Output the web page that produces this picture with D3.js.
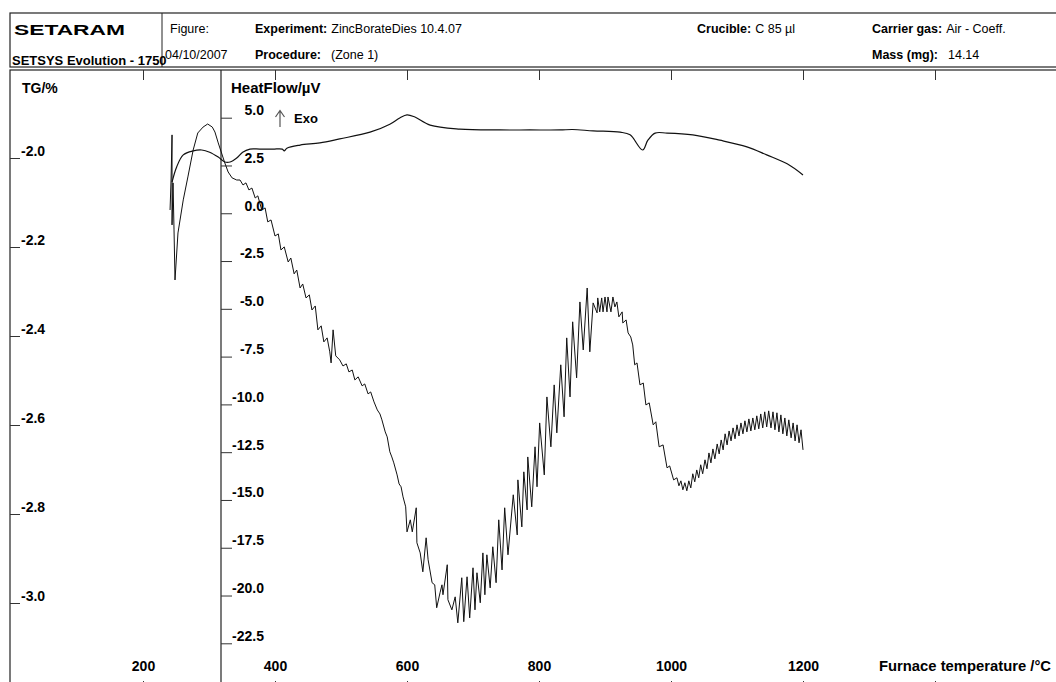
<!DOCTYPE html>
<html>
<head>
<meta charset="utf-8">
<script src="https://cdnjs.cloudflare.com/ajax/libs/d3/7.8.5/d3.min.js"></script>
<style>
body { margin: 0; background: #fff; }
text { font-family: "Liberation Sans", Arial, sans-serif; fill: #000; }
.tick line { stroke: #333; }
</style>
</head>
<body>
<div id="chart"></div>
<script>
// Tick values
var tempTicks = [200, 400, 600, 800, 1000, 1200];
var topTicks = [200, 400, 600, 800, 1000, 1200, 1400];
var tgTicks = [-2.0, -2.2, -2.4, -2.6, -2.8, -3.0];
var hfTicks = [5.0, 2.5, 0.0, -2.5, -5.0, -7.5, -10.0, -12.5, -15.0, -17.5, -20.0, -22.5];

// TG curve : [furnace temperature °C, TG %]
var tgCurve = [
  [244,-2.054],[251,-2.020],[261,-1.993],[276,-1.984],[289,-1.982],[301,-1.987],[314,-1.998],
  [324,-2.009],[332,-2.009],[342,-2.000],[351,-1.987],[362,-1.980],[377,-1.980],[397,-1.980],
  [411,-1.980],[414,-1.984],[418,-1.978],[438,-1.971],[468,-1.966],[498,-1.957],[544,-1.942],
  [574,-1.924],[589,-1.910],[600,-1.903],[612,-1.908],[635,-1.926],[680,-1.935],[741,-1.937],
  [786,-1.937],[832,-1.937],[851,-1.936],[882,-1.939],[923,-1.942],[938,-1.948],[957,-1.982],
  [965,-1.960],[976,-1.944],[994,-1.944],[1033,-1.948],[1074,-1.960],[1115,-1.975],[1145,-1.993],
  [1176,-2.013],[1200,-2.038]
];

// Heat flow curve : [furnace temperature °C, heat flow µV]
var hfCurve = [
  [241,0.17],[242.5,1.74],[244,4.10],[244,-0.61],[245.5,1.59],[247,-0.87],[248.5,-3.49],[253,-1.03],
  [261,0.70],[268,1.90],[276,3.31],[283,4.20],[291,4.51],[298,4.67],[305,4.51],[309,4.25],[314,3.68],
  [320,3.05],[324,2.63],[329,2.16],[335,1.85],[342,1.74],
  [347,1.74],[351.5,1.48],[356,1.59],[360.5,1.22],[365,1.32],[370,0.80],[374,0.91],[380,0.17],[385,0.28],
  [389,-0.45],[394,-0.35],[400,-1.19],[405,-1.08],[409,-1.92],[414,-1.76],[420,-2.55],[424,-2.34],
  [429,-3.17],[433,-2.97],[438,-3.91],[442,-3.70],[447,-4.43],[452,-4.27],[456,-5.06],[461,-4.85],
  [465,-6.10],[470,-5.89],[474,-6.73],[479,-6.52],[483,-7.25],[485,-7.83],[488,-6.10],[492,-7.46],
  [498,-7.67],[503,-7.99],[508,-7.88],[512,-8.30],[517,-8.20],[521,-8.72],[526,-8.56],[532,-9.03],
  [536,-8.93],[541,-9.45],[545,-9.35],[550,-9.87],[555,-10.29],[559,-10.50],[562,-10.81],[567,-11.44],
  [570,-11.70],[574,-12.48],[577,-12.75],[580,-13.06],[585,-13.69],[588,-14.16],[591,-14.31],
  [594,-14.84],[598,-15.36],
  [600,-16.67],[605,-16.04],[608,-16.67],[614,-15.41],[615,-17.24],[620,-17.77],[624,-18.76],
  [629,-16.98],[632,-18.13],[638,-19.33],[642,-19.44],[645,-20.64],[650,-19.86],[653,-19.44],
  [654.5,-19.96],[661,-18.39],[662,-20.22],[668,-20.75],[673,-20.07],[677,-21.43],[683,-19.07],
  [686,-21.37],[691,-19.02],[695,-21.17],[700,-18.55],[703,-20.75],[706,-18.81],[711,-20.38],
  [715,-17.77],[718,-19.96],[721,-17.87],[726,-19.60],[730,-17.45],[735,-19.33],[739,-16.04],
  [744,-18.66],[748,-15.41],[753,-17.87],[761,-14.73],[767,-16.83],[768,-13.95],[774,-16.41],
  [777,-13.53],[782,-15.52],[783,-12.75],[789,-15.36],[794,-12.22],[797,-14.31],[801,-10.97],
  [808,-13.69],[812,-9.61],[818,-12.22],[823,-8.98],[827,-11.49],[833,-7.93],[838,-10.65],
  [842,-6.52],[847,-9.61],[851,-5.68],[857,-8.61],[862,-4.64],[867,-7.15],[873,-3.91],[877,-7.25],
  [882,-4.69],[888,-5.21],[889,-4.43],[892,-5.16],[895,-4.43],[897,-5.16],[900,-4.38],[903,-5.16],
  [904.5,-4.38],[909,-5.16],[912,-4.38],[915,-4.90],[918,-4.64],[921,-5.42],[926,-5.16],[927,-5.74],
  [932,-5.58],[935,-6.26],[939,-6.47],
  [942,-6.89],[945,-7.93],[948.5,-7.83],[953,-8.98],[958,-8.88],[962,-10.03],[967,-9.92],[973,-11.07],
  [977,-10.91],[982,-12.22],[988,-12.12],[994,-13.32],[998,-13.22],[1004,-13.95],[1009,-13.84],
  [1012,-14.26],[1015,-14.00],[1018,-14.47],[1021,-14.10],[1024,-14.52],[1027,-14.00],[1030,-14.37],
  [1033,-13.63],[1036,-14.05],[1039,-13.43],[1042,-13.84],[1045,-13.16],[1048,-13.63],[1051.5,-12.90],
  [1054.5,-13.37],[1057.5,-12.54],[1060.5,-13.06],[1063.5,-12.33],[1066.5,-12.85],[1070,-12.07],
  [1073,-12.59],[1076,-11.86],[1079,-12.38],[1082,-11.54],[1085,-12.12],[1088,-11.39],[1091,-11.91],
  [1094,-11.23],[1097,-11.80],[1100,-11.07],[1103,-11.65],[1106,-10.97],[1109,-11.54],[1112,-10.86],
  [1115,-11.44],[1118,-10.76],[1121,-11.39],[1124,-10.71],[1127,-11.33],[1130,-10.60],[1133,-11.28],
  [1136,-10.50],[1139,-11.23],[1142,-10.39],[1145,-11.18],[1148,-10.34],[1151.5,-11.23],[1154.5,-10.39],
  [1157.5,-11.33],[1160.5,-10.44],[1163.5,-11.44],[1166.5,-10.55],[1169.5,-11.54],[1172.5,-10.71],
  [1175.5,-11.65],[1178.5,-10.81],[1182,-11.75],[1185,-10.97],[1188,-11.91],[1191,-11.07],
  [1194,-12.01],[1197,-11.33],[1200,-12.38]
];

var svgWidth = 1056;
var svgHeight = 682;

var svg = d3.select("#chart")
  .append("svg")
  .attr("width", svgWidth)
  .attr("height", svgHeight)
  .style("display", "block");

// Scales
var xScale = d3.scaleLinear().domain([200, 1200]).range([143, 803]);
var tgScale = d3.scaleLinear().domain([-2.0, -3.0]).range([158, 603]);
var hfScale = d3.scaleLinear().domain([5.0, -22.5]).range([117.7, 643.3]);

// Header frame
svg.append("rect")
  .attr("x", 10).attr("y", 13)
  .attr("width", 1100).attr("height", 54)
  .attr("fill", "none").attr("stroke", "#222").attr("stroke-width", 1.2);
svg.append("line")
  .attr("x1", 162).attr("x2", 162).attr("y1", 13).attr("y2", 67)
  .attr("stroke", "#222");

// Chart frame
svg.append("rect")
  .attr("x", 10).attr("y", 70)
  .attr("width", 1100).attr("height", 700)
  .attr("fill", "none").attr("stroke", "#222").attr("stroke-width", 1.2);
svg.append("line")
  .attr("x1", 221).attr("x2", 221).attr("y1", 70).attr("y2", 700)
  .attr("stroke", "#222").attr("stroke-width", 1.2);

// Header texts
svg.append("text")
  .attr("x", 14).attr("y", 35)
  .attr("textLength", 111).attr("lengthAdjust", "spacingAndGlyphs")
  .style("font-size", "14px").style("font-weight", "900")
  .text("SETARAM");
svg.append("text")
  .attr("x", 12).attr("y", 65)
  .style("font-size", "13px").style("font-weight", "bold")
  .text("SETSYS Evolution - 1750");
svg.append("text").attr("x", 170).attr("y", 33).style("font-size", "12.5px").text("Figure:");
svg.append("text").attr("x", 165).attr("y", 59).style("font-size", "12.5px").text("04/10/2007");

function headerItem(x, y, label, value, gap) {
  var t = svg.append("text").attr("x", x).attr("y", y).style("font-size", "12.5px");
  t.append("tspan").style("font-weight", "bold").text(label);
  t.append("tspan").attr("dx", gap).text(value);
}
headerItem(255, 33, "Experiment:", "ZincBorateDies 10.4.07", 4);
headerItem(255, 59, "Procedure:", "(Zone 1)", 10);
headerItem(697, 33, "Crucible:", "C 85 µl", 4);
headerItem(872, 33, "Carrier gas:", "Air - Coeff.", 4);
headerItem(872, 59, "Mass (mg):", "14.14", 10);

// Top ticks of the temperature axis
svg.append("g")
  .attr("transform", "translate(0,70)")
  .call(d3.axisBottom(xScale).tickValues(topTicks).tickSize(10).tickFormat(""))
  .call(g => g.select(".domain").remove());

// Bottom temperature axis (labels above ticks)
var xAxis = svg.append("g")
  .attr("transform", "translate(0,687)")
  .call(d3.axisTop(xScale).tickValues(tempTicks.concat([1400])).tickSize(6).tickPadding(10)
    .tickFormat(d => d === 1400 ? "" : d))
  .call(g => g.select(".domain").remove());
xAxis.selectAll("text")
  .style("font-size", "14px").style("font-weight", "bold")
  .style("font-family", "Liberation Sans, Arial, sans-serif").attr("fill", "#000");

svg.append("text")
  .attr("x", 879).attr("y", 671)
  .style("font-size", "14.8px").style("font-weight", "bold")
  .text("Furnace temperature /°C");

// TG axis (left)
var tgAxis = svg.append("g")
  .attr("transform", "translate(10,0)")
  .call(d3.axisRight(tgScale).tickValues(tgTicks).tickSize(10).tickPadding(1)
    .tickFormat(d => d.toFixed(1)))
  .call(g => g.select(".domain").remove());
tgAxis.selectAll("text")
  .attr("dy", "-0.2em")
  .style("font-size", "14px").style("font-weight", "bold")
  .style("font-family", "Liberation Sans, Arial, sans-serif").attr("fill", "#000");

// Heat flow axis (middle)
var hfAxis = svg.append("g")
  .attr("transform", "translate(221,0)")
  .call(d3.axisRight(hfScale).tickValues(hfTicks).tickSize(11)
    .tickFormat(d => d.toFixed(1)))
  .call(g => g.select(".domain").remove());
hfAxis.selectAll("text")
  .attr("x", 43).attr("dy", "-0.22em")
  .attr("text-anchor", "end")
  .style("font-size", "14px").style("font-weight", "bold")
  .style("font-family", "Liberation Sans, Arial, sans-serif").attr("fill", "#000");

// Axis titles
svg.append("text").attr("x", 22).attr("y", 93)
  .style("font-size", "14px").style("font-weight", "bold").text("TG/%");
svg.append("text").attr("x", 231).attr("y", 93)
  .style("font-size", "15px").style("font-weight", "bold").text("HeatFlow/µV");

// Exo arrow
svg.append("path")
  .attr("d", "M280,127V111M275.5,117L280,110.5L284.5,117")
  .attr("fill", "none").attr("stroke", "#555").attr("stroke-width", 1.2);
svg.append("text").attr("x", 294).attr("y", 123)
  .style("font-size", "13px").style("font-weight", "bold").text("Exo");

// Curves
var tgLine = d3.line()
  .x(d => xScale(d[0]))
  .y(d => tgScale(d[1]))
  .curve(d3.curveCatmullRom);

var hfLine = d3.line()
  .x(d => xScale(d[0]))
  .y(d => hfScale(d[1]));

svg.append("path")
  .datum(tgCurve)
  .attr("d", tgLine)
  .attr("fill", "none")
  .attr("stroke", "#111")
  .attr("stroke-width", 1.2);

svg.append("path")
  .datum(hfCurve)
  .attr("d", hfLine)
  .attr("fill", "none")
  .attr("stroke", "#111")
  .attr("stroke-width", 1);
</script>
</body>
</html>
